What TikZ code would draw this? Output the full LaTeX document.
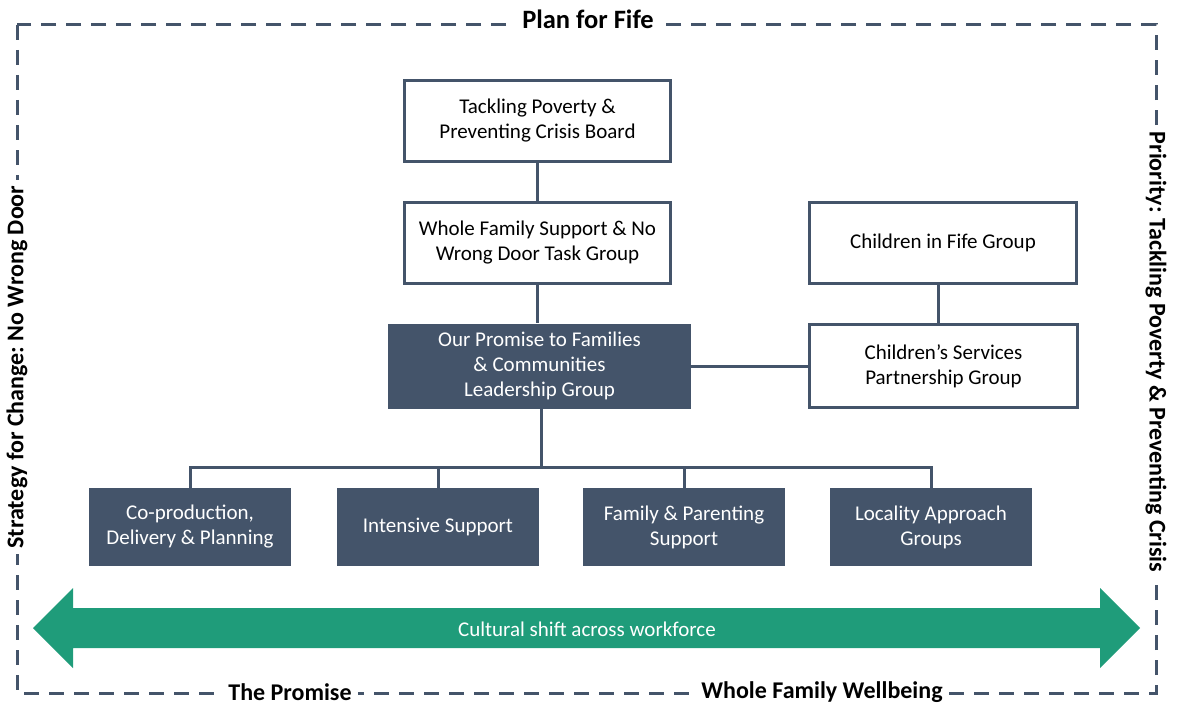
\documentclass[tikz,border=0pt]{standalone}
\usepackage{fontspec}
\setmainfont{Carlito}
\frenchspacing
\definecolor{navy}{HTML}{44546A}
\definecolor{teal}{RGB}{31,156,122}
\begin{document}
\begin{tikzpicture}[x=1pt,y=-1pt,
  box/.style={draw=navy,line width=3pt,fill=white,text=black,align=center,inner sep=0pt,
    font=\fontsize{21}{25}\selectfont},
  darkbox/.style={fill=navy,text=white,align=center,inner sep=0pt,
    font=\fontsize{21}{25}\selectfont},
  conn/.style={draw=navy,line width=3pt},
  frame/.style={draw=navy,line width=3pt,dash pattern=on 15pt off 10pt},
  flabel/.style={fill=white,inner sep=6pt,font=\fontsize{24}{28}\selectfont\bfseries,text=black}]
\useasboundingbox (0,0) rectangle (1179,709);
% frame
\draw[frame] (17,25) rectangle (1156,693);
\node[flabel,font=\fontsize{26.5}{30}\selectfont\bfseries] (plan) at (588,19) {Plan for Fife};
\node[flabel] (promise) at (290,692) {The Promise};
\node[flabel] (wfw) at (822,692) {Whole Family Wellbeing};
\node[flabel,rotate=90] (strat) at (17,367) {Strategy for Change: No Wrong Door};
\node[flabel,rotate=-90] (prio) at (1156,352) {Priority: Tackling Poverty \& Preventing Crisis};
% boxes
\node[box,minimum width=266pt,minimum height=81pt] (top) at (537.5,121) {Tackling Poverty \&\\Preventing Crisis Board};
\node[box,minimum width=266pt,minimum height=81pt] (wfs) at (537.5,243) {Whole Family Support \& No\\Wrong Door Task Group};
\node[box,minimum width=267pt,minimum height=81pt] (cif) at (943,243) {Children in Fife Group};
\node[darkbox,minimum width=303pt,minimum height=85pt] (lead) at (539.5,366) {Our Promise to Families\\\& Communities\\Leadership Group};
\node[box,minimum width=268pt,minimum height=83pt] (csp) at (943.5,366) {Children's Services\\Partnership Group};
\node[darkbox,minimum width=202pt,minimum height=78pt] (b1) at (190,527) {Co-production,\\Delivery \& Planning};
\node[darkbox,minimum width=202pt,minimum height=78pt] (b2) at (438,527) {Intensive Support};
\node[darkbox,minimum width=202pt,minimum height=78pt] (b3) at (684,527) {Family \& Parenting\\Support};
\node[darkbox,minimum width=202pt,minimum height=78pt] (b4) at (931,527) {Locality Approach\\Groups};
% connectors
\coordinate (bus) at (541,467);
\draw[conn] (top.south) -- (wfs.north);
\draw[conn] (wfs.south) -- (lead.north -| wfs.south);
\draw[conn] (lead.east) -- (csp.west);
\draw[conn] (cif.south -| 938,0) -- (csp.north -| 938,0);
\draw[conn] (lead.south -| bus) -- (bus);
\draw[conn,line cap=rect] (b1.north) |- (bus) -| (b4.north);
\draw[conn] (b2.north) -- (b2.north |- bus);
\draw[conn] (b3.north) -- (b3.north |- bus);
% arrow
\fill[teal] (33,628) -- (73,588) -- (73,608) -- (1100,608) -- (1100,588) -- (1140,628)
  -- (1100,668) -- (1100,648) -- (73,648) -- (73,668) -- cycle;
\node[text=white,font=\fontsize{21}{25}\selectfont] (shift) at (587,629) {Cultural shift across workforce};
\end{tikzpicture}
\end{document}
